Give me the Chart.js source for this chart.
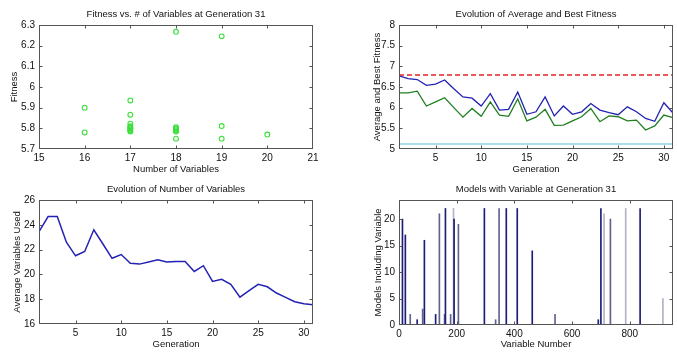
<!DOCTYPE html>
<html>
<head>
<meta charset="utf-8">
<script src="https://cdn.jsdelivr.net/npm/chart.js@4/dist/chart.umd.min.js"></script>
<style>
  html, body { margin: 0; padding: 0; background: #fff; }
  #wrap { position: relative; width: 677px; height: 354px; overflow: hidden; }
  canvas { position: absolute; }
</style>
</head>
<body>
<div id="wrap">
  <canvas id="fitScatter" width="337" height="178" style="left:0;top:0"></canvas>
  <canvas id="fitEvolution" width="340" height="178" style="left:337px;top:0"></canvas>
  <canvas id="varEvolution" width="337" height="179" style="left:0;top:175px"></canvas>
  <canvas id="varModels" width="340" height="179" style="left:337px;top:175px"></canvas>
</div>
<script>
// scatter: fitness vs number of variables at generation 31
const scatterVars = [16, 16, 17, 17, 17, 17, 17, 17, 17, 17, 17, 18, 18, 18, 18, 18, 18, 18, 19, 19, 19, 20];
const scatterFit = [5.90, 5.78, 5.935, 5.866, 5.823, 5.81, 5.805, 5.80, 5.795, 5.79, 5.785,
  6.267, 5.805, 5.80, 5.795, 5.79, 5.785, 5.75, 6.245, 5.811, 5.75, 5.77];
const scatterXTicks = [15, 16, 17, 18, 19, 20, 21];
const scatterYTicks = [5.7, 5.8, 5.9, 6.0, 6.1, 6.2, 6.3];

// evolution over generations
const generations = Array.from({ length: 31 }, (_, i) => i + 1);
const avgFitness = [6.77, 6.70, 6.68, 6.54, 6.57, 6.67, 6.46, 6.26, 6.23, 6.04, 6.34, 5.94, 5.96, 6.38, 5.84,
  5.90, 6.26, 5.80, 6.04, 5.84, 5.90, 6.10, 5.94, 5.88, 5.83, 6.02, 5.90, 5.74, 5.67, 6.12, 5.87];
const bestFitness = [6.36, 6.36, 6.40, 6.04, 6.14, 6.24, 6.00, 5.77, 5.98, 5.79, 6.14, 5.82, 5.79, 6.21, 5.68,
  5.77, 5.96, 5.57, 5.58, 5.68, 5.78, 5.98, 5.66, 5.80, 5.78, 5.68, 5.70, 5.46, 5.56, 5.82, 5.76];
const refHigh = 6.79;
const refLow = 5.12;
const avgVarsUsed = [23.45, 24.66, 24.66, 22.6, 21.5, 21.85, 23.6, 22.45, 21.3, 21.6, 20.9, 20.83, 21.0, 21.17, 21.0,
  21.05, 21.05, 20.24, 20.7, 19.43, 19.6, 19.2, 18.17, 18.7, 19.2, 19.0, 18.5, 18.15, 17.8, 17.63, 17.56];
const genTicks = [5, 10, 15, 20, 25, 30];
const fitYTicks = [5, 5.5, 6, 6.5, 7, 7.5, 8];
const varsYTicks = [16, 18, 20, 22, 24, 26];

// models including each variable at generation 31
const varNumbers = [12, 22, 39, 63, 82, 88, 127, 140, 158, 161, 179, 189, 191, 206, 296, 335, 347, 372, 410,
  462, 541, 691, 700, 711, 733, 786, 836, 915];
const varModelCounts = [20, 17, 2, 1, 3, 16, 2, 21, 2, 22, 2, 22, 20, 19, 22, 1, 22, 22, 22,
  14, 2, 1, 22, 21, 20, 22, 22, 5];
const varXTicks = [0, 200, 400, 600, 800];
const varYTicks = [0, 5, 10, 15, 20];

// bar shades (style only): d = dark, m = mid, l = light
const shadeOf = { d: '#1d1d78', m: '#62628f', l: '#b2b2c8' };
const varShades = ['d', 'd', 'm', 'd', 'm', 'd', 'd', 'm', 'm', 'd', 'm', 'l', 'd', 'm', 'd', 'm', 'm', 'd', 'd',
  'd', 'm', 'd', 'd', 'l', 'm', 'l', 'd', 'l'];

const FONT = '"Liberation Sans", Arial, sans-serif';
const TXT = '#111';

const matlabBox = {
  id: 'matlabBox',
  afterDraw(chart, args, opts) {
    const { ctx, chartArea: a, scales } = chart;
    const l = Math.round(a.left) + 0.5, r = Math.round(a.right) - 0.5;
    const t = Math.round(a.top) + 0.5, b = Math.round(a.bottom) - 0.5;
    ctx.save();
    ctx.strokeStyle = '#555';
    ctx.lineWidth = 1;
    ctx.strokeRect(l, t, r - l, b - t);
    ctx.beginPath();
    const tl = 3;
    scales.x.ticks.forEach(tk => {
      const px = Math.round(scales.x.getPixelForValue(tk.value)) + 0.5;
      if (px <= l + 1 || px >= r - 1) return;
      ctx.moveTo(px, b); ctx.lineTo(px, b - tl);
      ctx.moveTo(px, t); ctx.lineTo(px, t + tl);
    });
    scales.y.ticks.forEach(tk => {
      const py = Math.round(scales.y.getPixelForValue(tk.value)) + 0.5;
      if (py <= t + 1 || py >= b - 1) return;
      ctx.moveTo(l, py); ctx.lineTo(l + tl, py);
      ctx.moveTo(r, py); ctx.lineTo(r - tl, py);
    });
    ctx.stroke();
    ctx.fillStyle = TXT;
    ctx.font = '9.5px ' + FONT;
    ctx.textAlign = 'center';
    ctx.textBaseline = 'middle';
    ctx.fillText(opts.text, (a.left + a.right) / 2, a.top - 10.5);
    ctx.restore();
  }
};

function fmt(v) {
  return String(Number(v.toFixed(2)));
}

function axis(cfg) {
  const isX = cfg.axis === 'x';
  return {
    type: 'linear',
    min: cfg.min,
    max: cfg.max,
    offset: false,
    grid: { display: false, drawTicks: false },
    border: { display: false },
    afterBuildTicks: s => { s.ticks = cfg.ticks.map(v => ({ value: v })); },
    afterFit: s => { if (isX) s.height = cfg.size; else s.width = cfg.size; },
    ticks: {
      autoSkip: false,
      maxRotation: 0,
      padding: isX ? 3 : 4,
      color: TXT,
      font: { family: FONT, size: 10 },
      callback: v => fmt(v)
    },
    title: {
      display: true,
      text: cfg.title,
      color: TXT,
      font: { family: FONT, size: 9.5 },
      padding: isX ? { top: 0, bottom: cfg.titlePad } : { top: cfg.titlePad, bottom: 0 }
    }
  };
}

function baseOptions(title, padRight, xAx, yAx) {
  return {
    responsive: false,
    animation: false,
    layout: { padding: { top: 25, right: padRight, bottom: 0, left: 0 } },
    plugins: {
      legend: { display: false },
      tooltip: { enabled: false },
      matlabBox: { text: title }
    },
    scales: { x: axis(xAx), y: axis(yAx) }
  };
}

function points(xs, ys) {
  return xs.map((x, i) => ({ x: x, y: ys[i] }));
}

new Chart(document.getElementById('fitScatter'), {
  type: 'scatter',
  data: {
    datasets: [{
      data: points(scatterVars, scatterFit),
      pointStyle: 'circle',
      pointRadius: 2.4,
      borderWidth: 1.1,
      borderColor: '#3ade3a',
      backgroundColor: 'rgba(0,0,0,0)'
    }]
  },
  options: baseOptions('Fitness vs. # of Variables at Generation 31', 24,
    { axis: 'x', min: 15, max: 21, ticks: scatterXTicks, size: 29, title: 'Number of Variables', titlePad: 2.6 },
    { axis: 'y', min: 5.7, max: 6.3, ticks: scatterYTicks, size: 39, title: 'Fitness', titlePad: 8.3 }),
  plugins: [matlabBox]
});

new Chart(document.getElementById('fitEvolution'), {
  type: 'line',
  data: {
    datasets: [
      { data: points([1, 31], [refHigh, refHigh]), borderColor: '#e02626', borderWidth: 1.3, borderDash: [5, 3], pointRadius: 0 },
      { data: points([1, 31], [refLow, refLow]), borderColor: '#8fd2e6', borderWidth: 1.6, pointRadius: 0 },
      { data: points(generations, bestFitness), borderColor: '#1f7f1f', borderWidth: 1.3, pointRadius: 0, tension: 0 },
      { data: points(generations, avgFitness), borderColor: '#2222b4', borderWidth: 1.3, pointRadius: 0, tension: 0 }
    ]
  },
  options: baseOptions('Evolution of Average and Best Fitness', 4,
    { axis: 'x', min: 1, max: 31, ticks: genTicks, size: 29, title: 'Generation', titlePad: 2.6 },
    { axis: 'y', min: 5, max: 8, ticks: fitYTicks, size: 62, title: 'Average and Best Fitness', titlePad: 34.3 }),
  plugins: [matlabBox]
});

new Chart(document.getElementById('varEvolution'), {
  type: 'line',
  data: {
    datasets: [
      { data: points(generations, avgVarsUsed), borderColor: '#2222b4', borderWidth: 1.5, pointRadius: 0, tension: 0 }
    ]
  },
  options: baseOptions('Evolution of Number of Variables', 24,
    { axis: 'x', min: 1, max: 31, ticks: genTicks, size: 30, title: 'Generation', titlePad: 3.6 },
    { axis: 'y', min: 16, max: 26, ticks: varsYTicks, size: 39, title: 'Average Variables Used', titlePad: 12 }),
  plugins: [matlabBox]
});

new Chart(document.getElementById('varModels'), {
  type: 'bar',
  data: {
    datasets: [{
      data: points(varNumbers, varModelCounts),
      backgroundColor: varShades.map(s => shadeOf[s]),
      barThickness: 1,
      borderWidth: 0
    }]
  },
  options: baseOptions('Models with Variable at Generation 31', 4,
    { axis: 'x', min: 0, max: 950, ticks: varXTicks, size: 29, title: 'Variable Number', titlePad: 3.6 },
    { axis: 'y', min: 0, max: 23.6, ticks: varYTicks, size: 62, title: 'Models Including Variable', titlePad: 36 }),
  plugins: [matlabBox]
});
</script>
</body>
</html>
